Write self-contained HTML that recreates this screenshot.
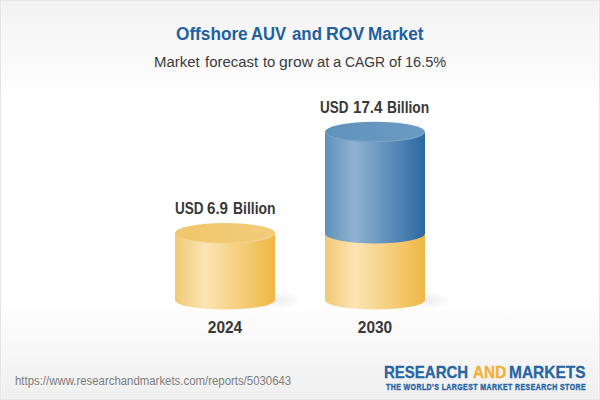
<!DOCTYPE html>
<html><head><meta charset="utf-8">
<style>
html,body{margin:0;padding:0;}
body{width:600px;height:400px;overflow:hidden;position:relative;font-family:"Liberation Sans",sans-serif;
background:linear-gradient(to bottom,#f2f2f2 0px,#ffffff 100px,#ffffff 300px,#efefef 400px);}
.frame{position:absolute;left:0;top:0;width:598px;height:398px;border:1px solid #e4e4e4;box-shadow:inset 1px 1px 0 rgba(255,255,255,0.35),inset -1px -1px 0 rgba(255,255,255,0.35);}
.t{position:absolute;white-space:nowrap;}
.lbl{font-size:14.3px;font-weight:bold;color:#383838;text-align:center;width:200px;}
#url{left:15px;top:373.5px;font-size:12.2px;color:#7d7d7d;transform-origin:0 0;transform:scaleX(0.935);}
svg{position:absolute;left:0;top:0;}
.tw{top:22.5px;font-size:18.8px;font-weight:bold;color:#1f60a0;transform-origin:0 0;}
.lw{font-size:15.8px;font-weight:bold;color:#383838;transform-origin:0 0;}
.sw{top:53px;font-size:15.3px;color:#3a3a3a;transform-origin:0 0;}
.lg{font-size:16.5px;line-height:20px;font-weight:bold;color:#2865a3;-webkit-text-stroke:0.3px #2865a3;transform-origin:0 0;}
</style></head><body>
<div class="frame"></div>
<svg width="600" height="400" viewBox="0 0 600 400">
<defs>
<linearGradient id="gy" x1="0" x2="1" y1="0" y2="0">
<stop offset="0" stop-color="#f2ca76"/>
<stop offset="0.3" stop-color="#fbe4b4"/>
<stop offset="1" stop-color="#efb845"/>
</linearGradient>
<linearGradient id="gb" x1="0" x2="1" y1="0" y2="0">
<stop offset="0" stop-color="#5f90bb"/>
<stop offset="0.29" stop-color="#91b3d1"/>
<stop offset="1" stop-color="#2a68a2"/>
</linearGradient>
<linearGradient id="fy" x1="0" x2="1" y1="0" y2="0"><stop offset="0" stop-color="#f1c66b"/><stop offset="1" stop-color="#f3cc7a"/></linearGradient>
<linearGradient id="fb" x1="0" x2="1" y1="0" y2="0"><stop offset="0" stop-color="#6192bc"/><stop offset="1" stop-color="#6a9bc3"/></linearGradient>
<radialGradient id="sh" cx="0.5" cy="0.5" r="0.5">
<stop offset="0" stop-color="#303438" stop-opacity="0.085"/>
<stop offset="1" stop-color="#000" stop-opacity="0"/>
</radialGradient>
</defs>
<!-- shadows -->
<ellipse cx="277" cy="300" rx="24" ry="8.5" fill="url(#sh)"/>
<ellipse cx="427" cy="300" rx="24" ry="8.5" fill="url(#sh)"/>
<!-- 2024 -->
<path d="M175 233.5 L175 300 A50 9.5 0 0 0 275 300 L275 233.5 Z" fill="url(#gy)"/>
<ellipse cx="225" cy="233.3" rx="50" ry="10.3" fill="url(#fy)"/>
<path d="M175.5 233.5 A49.5 9.5 0 0 0 274.5 233.5" fill="none" stroke="#fff" stroke-opacity="0.2" stroke-width="0.8"/>
<!-- 2030 yellow -->
<path d="M325 233.5 L325 300 A50 9.5 0 0 0 425 300 L425 233.5 Z" fill="url(#gy)"/>
<!-- 2030 blue -->
<path d="M325 132 L325 233.5 A50 10 0 0 0 425 233.5 L425 132 Z" fill="url(#gb)"/>
<ellipse cx="375" cy="132" rx="50" ry="10.3" fill="url(#fb)"/>
<path d="M325.5 132 A49.5 9.5 0 0 0 424.5 132" fill="none" stroke="#fff" stroke-opacity="0.18" stroke-width="0.8"/>
</svg>
<div class="t sw" style="left:154.02px;transform:scaleX(0.9783)">Market</div>
<div class="t sw" style="left:205.00px;transform:scaleX(0.9764)">forecast</div>
<div class="t sw" style="left:263.38px;transform:scaleX(0.9700)">to</div>
<div class="t sw" style="left:279.37px;transform:scaleX(1.0281)">grow</div>
<div class="t sw" style="left:316.51px;transform:scaleX(0.9700)">at</div>
<div class="t sw" style="left:333.15px;transform:scaleX(0.9700)">a</div>
<div class="t sw" style="left:345.10px;transform:scaleX(0.9048)">CAGR</div>
<div class="t sw" style="left:388.51px;transform:scaleX(0.9700)">of</div>
<div class="t sw" style="left:404.65px;transform:scaleX(0.9524)">16.5%</div>
<div class="t tw" style="left:176.28px;transform:scaleX(0.9156)">Offshore</div>
<div class="t tw" style="left:251.32px;transform:scaleX(0.8846)">AUV</div>
<div class="t tw" style="left:291.80px;transform:scaleX(0.8968)">and</div>
<div class="t tw" style="left:325.56px;transform:scaleX(0.9425)">ROV</div>
<div class="t tw" style="left:367.78px;transform:scaleX(0.9153)">Market</div>
<div class="t lw" style="left:320.15px;top:98.5px;transform:scaleX(0.8531)">USD</div>
<div class="t lw" style="left:353.24px;top:98.5px;transform:scaleX(0.9567)">17.4</div>
<div class="t lw" style="left:387.43px;top:98.5px;transform:scaleX(0.8739)">Billion</div>
<div class="t lw" style="left:174.74px;top:199.5px;transform:scaleX(0.8563)">USD</div>
<div class="t lw" style="left:206.94px;top:199.5px;transform:scaleX(0.9571)">6.9</div>
<div class="t lw" style="left:232.82px;top:199.5px;transform:scaleX(0.8804)">Billion</div>
<div class="t lbl" style="left:125px;top:318px;font-size:16.3px;transform:scaleX(0.95)">2024</div>
<div class="t lbl" style="left:275px;top:318px;font-size:16.3px;transform:scaleX(0.95)">2030</div>
<div class="t" id="url">https://www.researchandmarkets.com/reports/5030643</div>
<div class="t lg" style="left:384.39px;top:362px;transform:scaleX(0.9088)">RESEARCH</div>
<div class="t lg" style="left:472.5px;top:362px;color:#f1b133;-webkit-text-stroke:0.3px #f1b133;transform:scaleX(0.9286)">AND</div>
<div class="t lg" style="left:509.06px;top:362px;transform:scaleX(0.9375)">MARKETS</div>
<div class="t" id="logo2" style="left:385.5px;top:381px;letter-spacing:0.55px;font-size:8.3px;line-height:12px;font-weight:bold;color:#2865a3;-webkit-text-stroke:0.4px #2865a3;transform-origin:0 0;transform:scaleX(0.8347);">THE WORLD'S LARGEST MARKET RESEARCH STORE</div>
</body></html>
